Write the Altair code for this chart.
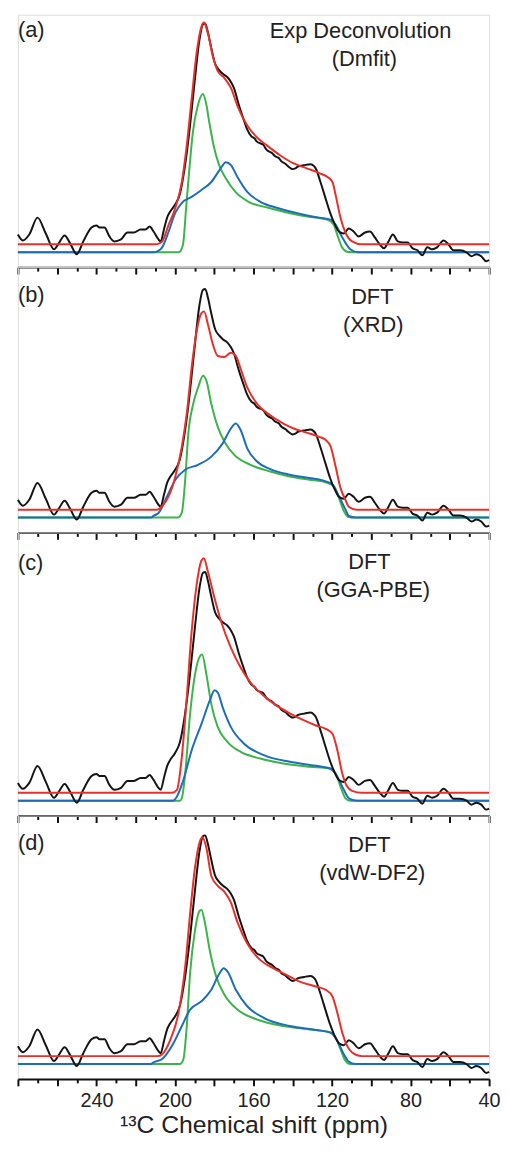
import altair as alt
import pandas as pd

# ---------------- data (ppm, intensity above component baseline) ----------------
TICKS = list(range(280, 39, -10))

BLACK = [(280, 18), (277.5, 12), (274.2, 18), (270, 35), (265.8, 19), (261.6, 3), (259.2, 9),
         (256.2, 17), (253.4, 9), (250, -2), (246.7, 11), (242.5, 25), (240, 27), (238.4, 25),
         (235.9, 25), (233.4, 16), (230.9, 11), (227.5, 13), (224.2, 20), (220.9, 20), (217.5, 23),
         (215, 23), (212.9, 26), (210.9, 21), (208.4, 13), (207.3, 11), (205.5, 24), (204, 35),
         (202.5, 41), (200, 48), (197.5, 59), (195, 86), (192.5, 125), (190, 172), (187.5, 215),
         (185.8, 230), (184.6, 231), (183.2, 222), (181.7, 208), (179.5, 190), (177.5, 184),
         (175.5, 180), (173.4, 177), (171.5, 172), (170, 166), (167.5, 149), (165, 134),
         (163.4, 125), (161, 117), (159.5, 115), (158.4, 112), (156.5, 110), (155, 108.5),
         (153.5, 104), (152.3, 102), (150.5, 100), (149, 97), (147, 95), (145.9, 92), (143.5, 89),
         (142.5, 87), (140, 84), (138.5, 85), (137.5, 86.5), (134.2, 88), (130.9, 89), (129.2, 87),
         (128.4, 85), (125.9, 71), (123.4, 55), (121, 40), (119, 30), (116.5, 21), (114, 19),
         (111.5, 24), (109, 21), (106.5, 16), (103.2, 20), (100.7, 21), (98.2, 15), (95.7, 8),
         (93.5, 4), (91.5, 10), (89, 18), (86.5, 11), (84, 10), (81.5, 10), (79, 4), (76.5, 2),
         (74, -3), (71.5, 5), (69, 3), (66.5, 5), (63.2, 12), (60.7, 8), (58.2, 2), (54.9, 2),
         (51.5, 0), (49, -4), (46.5, -2), (44, -4), (41.5, -9), (40, -8)]

RED_A = [(280, 8), (210, 8), (208, 9), (206.5, 11), (203.2, 28), (199.8, 45), (196.5, 71),
         (194, 108), (191.5, 155), (189, 201), (186.5, 228), (185.3, 232), (183.2, 221),
         (180.7, 198), (178.2, 183), (174.8, 176), (171.5, 166), (168.2, 148), (163.2, 128),
         (158.2, 116), (153.2, 108), (146.5, 98), (139.8, 90), (133.2, 85), (126.5, 80),
         (122.3, 76), (119.8, 71), (118.2, 58), (115.7, 35), (113.2, 20), (109.8, 11),
         (104.8, 8), (40, 8)]
GREEN_A = [(280, 0), (198, 0), (197.5, 0.5), (195.9, 8), (194.2, 48), (192.5, 88), (190.9, 121),
           (188.4, 148), (185.8, 160), (184.2, 151), (182.5, 131), (180, 105), (177.5, 88),
           (174.2, 75), (169.2, 61), (162.5, 51), (152.5, 45), (142.5, 40), (132.5, 36),
           (122.5, 33), (119.2, 28), (117.4, 18), (114.9, 5), (112.4, 0.5), (110, 0), (40, 0)]
BLUE_A = [(280, 0), (211, 0), (209, 1), (206.5, 5), (203.2, 21), (199.8, 40), (196.5, 50),
          (191.5, 56), (186.5, 63), (181.5, 71), (177.3, 83), (174, 91), (171.5, 88), (168.2, 76),
          (163.2, 61), (156.5, 51), (148.2, 45), (136.5, 39), (126.5, 35), (120.7, 33),
          (118.2, 28), (114.8, 15), (110.7, 3), (107, 0), (40, 0)]

RED_B = [(280, 8), (209, 8), (206.5, 11.6), (203.2, 21.6), (199.8, 41.6), (196.5, 71.6),
         (194, 105), (191.5, 151.6), (189, 188), (186.5, 206.6), (185.2, 208.3), (183.2, 195),
         (180.7, 175), (178.2, 163.3), (174.8, 162.3), (171.5, 166.6), (169, 163.3),
         (166.5, 150), (163.2, 131.6), (158.2, 115), (151.5, 103.3), (144.8, 95), (138.2, 89),
         (131.5, 85), (126.5, 81.6), (123.2, 78.3), (120.7, 71.6), (118.2, 51.6), (115.7, 30),
         (113.2, 18), (111.5, 11), (107.5, 8), (40, 8)]
GREEN_B = [(280, 0), (198.5, 0), (196.5, 5), (194.8, 38), (193.2, 85), (190.7, 115),
           (188.2, 131.6), (185.7, 143.3), (184, 138.3), (181.5, 115), (178.2, 91.6),
           (174.8, 76.6), (169.8, 63.3), (161.5, 53.3), (151.5, 46.6), (141.5, 41.6),
           (131.5, 38.3), (123.2, 35.6), (119, 31.6), (116.5, 20), (114, 6.6), (111.5, 0.5),
           (109, 0), (40, 0)]
BLUE_B = [(280, 0), (212, 0), (211.5, 1), (208.2, 5), (204, 21.6), (199.8, 38.3), (194.8, 48.3),
          (188.2, 53.3), (181.5, 61.6), (175.7, 75), (171.5, 90), (169, 95), (166.5, 88.3),
          (163.2, 70), (158.2, 56.6), (151.5, 49), (141.5, 43.3), (131.5, 40), (123.2, 36.6),
          (119.8, 33.3), (116.5, 21.6), (113.2, 8.3), (111.5, 1.6), (108, 0), (40, 0)]

RED_C = [(280, 8), (201.5, 8), (199, 11), (196.5, 44.3), (194, 104.3), (191.5, 171),
         (189, 217.6), (186.5, 242.6), (185.3, 245), (183.2, 231), (179.8, 204.3),
         (176.5, 181), (171.5, 154.3), (166.5, 134.3), (161.5, 119.3), (154.8, 106),
         (148.2, 96), (141.5, 88.3), (134.8, 81.6), (128.2, 76), (123.2, 72.6), (119.8, 67.6),
         (117.3, 51), (114.8, 27.6), (112.3, 14.3), (109.8, 10), (104.8, 8), (40, 8)]
GREEN_C = [(280, 0), (197.5, 0), (196.5, 2.6), (194.8, 27.6), (192.3, 87.6), (189.8, 127.6),
           (187.3, 146), (186.2, 147.6), (184, 127.6), (181.5, 97.6), (178.2, 74.3),
           (173.2, 59.3), (166.5, 49.3), (156.5, 42.6), (144.8, 37.6), (131.5, 34.3),
           (121.5, 32.6), (118.2, 27.6), (115.7, 14.3), (113.2, 2.6), (111.5, 0.3), (109, 0),
           (40, 0)]
BLUE_C = [(280, 0), (201, 0), (199, 4.3), (195.7, 21), (191.5, 51), (186.5, 77.6), (182.3, 101),
          (179.8, 111.6), (178.2, 109.3), (175.7, 94.3), (171.5, 74.3), (164.8, 57.6),
          (154.8, 46), (141.5, 39.3), (128.2, 35.3), (120.7, 32.6), (117.3, 24.3), (114, 11),
          (111.5, 2.6), (109.8, 1), (107, 0), (40, 0)]

RED_D = [(280, 8), (209, 8), (206.5, 10), (202.3, 25), (198.2, 51.7), (194.8, 98.3),
         (192.3, 151.7), (189.8, 198.3), (187.3, 225), (186, 229), (184, 218.3), (181.5, 190),
         (178.2, 180), (174.8, 174), (171.5, 163), (168.2, 143.3), (163.2, 121.7), (156.5, 105),
         (149.8, 96.7), (143.2, 90), (136.5, 83.3), (128.2, 78.3), (123.2, 75), (119.8, 68.3),
         (117.3, 51.7), (114.8, 31.7), (112.3, 18.3), (109.8, 11.7), (104.8, 8), (40, 8)]
GREEN_D = [(280, 0), (197.5, 0), (195.7, 5), (194, 38.3), (192.3, 91.7), (189.8, 135),
           (187.3, 155), (186.5, 155.7), (184.8, 143.3), (182.3, 115), (179, 88.3), (174.8, 70),
           (168.2, 55), (158.2, 45), (144.8, 38.3), (131.5, 35), (121.5, 32.4), (118.2, 26.7),
           (115.7, 15), (113.2, 3.4), (111.5, 0.3), (109, 0), (40, 0)]
BLUE_D = [(280, 0), (212, 0), (211.5, 1), (206.5, 5), (201.5, 18.4), (196.5, 38.4), (192.3, 55),
          (186.5, 63.4), (181.5, 75), (177.3, 91.7), (175.2, 96.7), (173.2, 93.4), (169, 75),
          (163.2, 58.4), (154.8, 46.7), (141.5, 38.4), (128.2, 34.4), (120.7, 31.7),
          (117.3, 23.4), (114, 10), (111.5, 2.4), (108, 0), (40, 0)]

PANEL_LABELS = ["(a)", "(b)", "(c)", "(d)"]
PANEL_TITLES = [("Exp Deconvolution", "(Dmfit)"), ("DFT", "(XRD)"), ("DFT", "(GGA-PBE)"),
                ("DFT", "(vdW-DF2)")]
# annotation anchor values (ppm, intensity) per panel: label, title line 1, title line 2
LABEL_POS = [(280, 217), (280, 218), (280, 233), (280, 216)]
TITLE1_POS = [(105.5, 216), (99.5, 215.6), (101, 234), (101, 214)]
TITLE2_POS = [(103.5, 188), (99, 187.6), (99, 206), (99.5, 185.7)]

PANEL_HEIGHTS = [255, 268, 286, 266]
PANEL_WIDTH = 476

RED, GREEN, BLUE, BLACK_COL = "#e8302a", "#3cb44a", "#1e6db6", "#141414"
FONT = "Liberation Sans"


def to_df(pairs):
    return pd.DataFrame({"ppm": [p for p, _ in pairs], "intensity": [v for _, v in pairs]})


def x_axis(bottom):
    kw = dict(values=TICKS,
              tickSize={"condition": {"test": "datum.value % 20 === 0", "value": 7}, "value": 4},
              tickWidth=2, tickColor="#111", domainColor="#111", domainWidth=2, grid=False,
              labelOverlap=False, labelFlush=False)
    if bottom:
        kw.update(labelExpr="(datum.value % 40 === 0 && datum.value < 280) ? datum.label : ''",
                  labelFontSize=20, labelPadding=5, labelColor="#222", labelFont=FONT,
                  title="¹³C Chemical shift (ppm)", titleFontSize=25, titleFontWeight="normal",
                  titlePadding=2, titleColor="#222", titleFont=FONT)
    else:
        kw.update(labels=False, title="")
    return alt.Axis(**kw)


def panel(i, red, green, blue):
    H = PANEL_HEIGHTS[i]
    bottom = i == 3
    xs = alt.Scale(domain=[40, 280], reverse=True, nice=False, zero=False)
    ys = alt.Scale(domain=[-15, H - 15], nice=False, zero=False)
    ax = x_axis(bottom)
    layers = []
    for pairs, col in [(green, GREEN), (blue, BLUE), (BLACK, BLACK_COL), (red, RED)]:
        layers.append(
            alt.Chart(to_df(pairs)).mark_line(color=col, strokeWidth=2, interpolate="monotone")
            .encode(x=alt.X("ppm:Q", scale=xs, axis=ax),
                    y=alt.Y("intensity:Q", scale=ys, axis=None),
                    order=alt.Order("ppm:Q", sort="descending"))
        )
    lab = pd.DataFrame({"ppm": [LABEL_POS[i][0]], "intensity": [LABEL_POS[i][1]],
                        "text": [PANEL_LABELS[i]]})
    ttl = pd.DataFrame({"ppm": [TITLE1_POS[i][0], TITLE2_POS[i][0]],
                        "intensity": [TITLE1_POS[i][1], TITLE2_POS[i][1]],
                        "text": list(PANEL_TITLES[i])})
    layers.append(alt.Chart(lab).mark_text(align="left", baseline="alphabetic", fontSize=22,
                                           font=FONT, color="#222")
                  .encode(x=alt.X("ppm:Q", scale=xs, axis=ax),
                          y=alt.Y("intensity:Q", scale=ys, axis=None), text="text:N"))
    layers.append(alt.Chart(ttl).mark_text(align="center", baseline="alphabetic", fontSize=22,
                                           font=FONT, color="#222")
                  .encode(x=alt.X("ppm:Q", scale=xs, axis=ax),
                          y=alt.Y("intensity:Q", scale=ys, axis=None), text="text:N"))
    return alt.layer(*layers).properties(width=PANEL_WIDTH, height=H)


panels = [panel(0, RED_A, GREEN_A, BLUE_A), panel(1, RED_B, GREEN_B, BLUE_B),
          panel(2, RED_C, GREEN_C, BLUE_C), panel(3, RED_D, GREEN_D, BLUE_D)]

chart = (alt.vconcat(*panels, spacing=0, bounds="flush")
         .properties(padding={"left": 5, "right": 0, "top": 0, "bottom": 0})
         .configure_view(strokeWidth=0)
         .configure(font=FONT))

chart.save("out.html", embed_options={"renderer": "svg", "actions": False})
